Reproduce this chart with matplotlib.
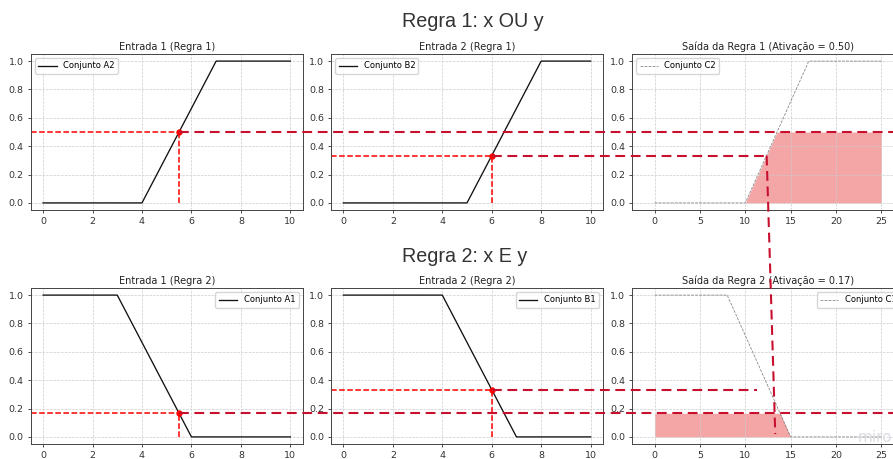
import matplotlib
matplotlib.use("Agg")
import matplotlib.pyplot as plt
import numpy as np
from matplotlib.lines import Line2D

# entradas (x = 5.5, y = 6)
x_in = 5.5
y_in = 6.0

# conjuntos de entrada (pontos dos trapezios)
a2_x = [0, 4, 7, 10]
a2_y = [0, 0, 1, 1]
b2_x = [0, 5, 8, 10]
b2_y = [0, 0, 1, 1]
a1_x = [0, 3, 6, 10]
a1_y = [1, 1, 0, 0]
b1_x = [0, 4, 7, 10]
b1_y = [1, 1, 0, 0]

# conjuntos de saida
c2_x = [0, 10, 17, 25]
c2_y = [0, 0, 1, 1]
c1_x = [0, 8, 15, 25]
c1_y = [1, 1, 0, 0]

# graus de pertinencia
mu_a2 = np.interp(x_in, a2_x, a2_y)
mu_b2 = np.interp(y_in, b2_x, b2_y)
mu_a1 = np.interp(x_in, a1_x, a1_y)
mu_b1 = np.interp(y_in, b1_x, b1_y)
act1 = max(mu_a2, mu_b2)   # OU
act2 = min(mu_a1, mu_b1)   # E

# pontos onde as linhas desenhadas por cima terminam
r1_mid_end = 12.33
r2_mid_end = 11.3
vert_top = (12.35, 1 / 3)
vert_bot = (13.3, 0.02)

plt.rcParams['font.size'] = 7
plt.rcParams['axes.linewidth'] = 0.7
plt.rcParams['axes.edgecolor'] = '#444444'
plt.rcParams['xtick.major.size'] = 2.5
plt.rcParams['ytick.major.size'] = 2.5
plt.rcParams['xtick.major.width'] = 0.6
plt.rcParams['ytick.major.width'] = 0.6
plt.rcParams['xtick.major.pad'] = 2.2
plt.rcParams['ytick.major.pad'] = 2.5
plt.rcParams['xtick.labelsize'] = 6.8
plt.rcParams['ytick.labelsize'] = 6.8
plt.rcParams['xtick.color'] = '#333333'
plt.rcParams['ytick.color'] = '#333333'

W, H = 893, 459
fig = plt.figure(figsize=(W / 100, H / 100), dpi=100)


def px_axes(left, top, width, height):
    return fig.add_axes([left / W, 1 - (top + height) / H, width / W, height / H])


lefts = [30.7, 331, 632]
tops = [54, 288]
axs = [[px_axes(l, t, 272, 156) for l in lefts] for t in tops]

x_out_grid = np.linspace(0, 25, 501)


def input_plot(ax, xs, ys, val, label, title, loc):
    ax.plot(xs, ys, color='#111111', lw=0.95, label=label)
    mu = np.interp(val, xs, ys)
    ax.plot([val], [mu], 'o', color='red', markersize=3.5)
    ax.hlines(mu, -0.5, val, colors='red', linestyles='--', lw=1.1)
    ax.vlines(val, 0, mu, colors='red', linestyles='--', lw=1.1)
    ax.set_xlim(-0.5, 10.5)
    ax.set_ylim(-0.05, 1.05)
    ax.set_title(title, fontsize=7, pad=3, color='#222222')
    ax.grid(True, linestyle='--', lw=0.5, color='#cccccc')
    ax.legend(loc=loc, fontsize=6, handlelength=2.2, borderpad=0.4)


def output_plot(ax, xs, ys, act, label, title, loc):
    ax.plot(xs, ys, color='gray', lw=0.55, ls='--', label=label)
    clipped = np.minimum(np.interp(x_out_grid, xs, ys), act)
    ax.fill_between(x_out_grid, 0, clipped, where=clipped > 0,
                    color='lightcoral', alpha=0.7, lw=0)
    ax.set_xlim(-2.5, 27.5)
    ax.set_ylim(-0.05, 1.05)
    ax.set_title(title, fontsize=7, pad=3, color='#222222')
    ax.grid(True, linestyle='--', lw=0.5, color='#cccccc')
    ax.legend(loc=loc, fontsize=6, handlelength=2.2, borderpad=0.4)


input_plot(axs[0][0], a2_x, a2_y, x_in, 'Conjunto A2', 'Entrada 1 (Regra 1)', 'upper left')
input_plot(axs[0][1], b2_x, b2_y, y_in, 'Conjunto B2', 'Entrada 2 (Regra 1)', 'upper left')
output_plot(axs[0][2], c2_x, c2_y, act1, 'Conjunto C2',
            'Saída da Regra 1 (Ativação = %.2f)' % act1, 'upper left')
input_plot(axs[1][0], a1_x, a1_y, x_in, 'Conjunto A1', 'Entrada 1 (Regra 2)', 'upper right')
input_plot(axs[1][1], b1_x, b1_y, y_in, 'Conjunto B1', 'Entrada 2 (Regra 2)', 'upper right')
output_plot(axs[1][2], c1_x, c1_y, act2, 'Conjunto C1',
            'Saída da Regra 2 (Ativação = %.2f)' % act2, 'upper right')

# titulos das regras
fig.text(402 / W, 1 - 27 / H, 'Regra 1: x OU y', fontsize=14.2,
         family='Liberation Sans', color='#333333', ha='left', va='baseline')
fig.text(402 / W, 1 - 262 / H, 'Regra 2: x E y', fontsize=14.2,
         family='Liberation Sans', color='#333333', ha='left', va='baseline')

# linhas tracejadas desenhadas por cima (anotacao)
to_fig = fig.transFigure.inverted()


def fpt(ax, pt):
    return to_fig.transform(ax.transData.transform(pt))


def overlay(p0, p1):
    fig.add_artist(Line2D([p0[0], p1[0]], [p0[1], p1[1]], transform=fig.transFigure,
                          color='#c8102e', lw=1.5, dashes=(4.7, 2.7), zorder=10))


p = fpt(axs[0][0], (x_in, mu_a2))
overlay(p, (1.0, p[1]))
overlay(fpt(axs[0][1], (y_in, mu_b2)), fpt(axs[0][2], (r1_mid_end, mu_b2)))
p = fpt(axs[1][0], (x_in, mu_a1))
overlay(p, (1.0, p[1]))
overlay(fpt(axs[1][1], (y_in, mu_b1)), fpt(axs[1][2], (r2_mid_end, mu_b1)))
overlay(fpt(axs[0][2], vert_top), fpt(axs[1][2], vert_bot))

fig.text(858 / W, 1 - 442 / H, 'miro', fontsize=11, color='#dcdce4',
         ha='left', va='baseline', zorder=11)

fig.savefig('out.png', dpi=100)
